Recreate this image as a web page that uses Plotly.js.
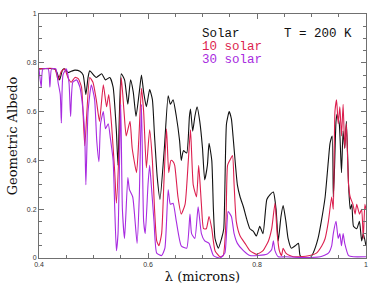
<!DOCTYPE html>
<html>
<head>
<meta charset="utf-8">
<script src="https://cdn.plot.ly/plotly-3.0.1.min.js"></script>
<style>html,body{margin:0;padding:0;background:#fff;}#chart{width:389px;height:291px;}</style>
</head>
<body>
<div id="chart"></div>
<script>
// Wavelength (microns) and geometric albedo
var solarX = [
 0.400,0.429,0.433,0.438,0.443,0.447,0.453,0.459,0.466,0.475,
 0.481,0.486,0.490,0.493,0.505,0.515,0.522,0.530,0.536,0.542,
 0.545,0.551,0.557,0.563,0.568,0.573,0.578,0.584,0.588,0.592,
 0.597,0.603,0.608,0.612,0.617,0.622,0.630,0.637,0.641,0.646,
 0.652,0.658,0.661,0.665,0.671,0.676,0.678,0.682,0.686,0.690,
 0.695,0.700,0.704,0.709,0.712,0.717,0.720,0.723,0.729,0.735,
 0.739,0.744,0.749,0.753,0.756,0.759,0.764,0.769,0.775,0.781,
 0.787,0.793,0.799,0.805,0.811,0.818,0.824,0.830,0.835,0.839,
 0.844,0.848,0.853,0.857,0.863,0.870,0.876,0.879,0.885,0.897,
 0.903,0.912,0.918,0.925,0.931,0.934,0.938,0.940,0.942,0.945,
 0.947,0.951,0.955,0.958,0.961,0.964,0.968,0.971,0.974,0.977,
 0.983,0.988,0.992,0.995,1.000];
var solarY = [
 0.775,0.775,0.760,0.730,0.770,0.775,0.760,0.765,0.770,0.765,
 0.750,0.670,0.740,0.767,0.740,0.755,0.730,0.740,0.700,0.520,
 0.380,0.755,0.730,0.630,0.730,0.680,0.580,0.680,0.750,0.680,
 0.620,0.690,0.650,0.500,0.330,0.240,0.450,0.665,0.630,0.648,
 0.580,0.480,0.400,0.440,0.430,0.580,0.610,0.520,0.580,0.620,
 0.560,0.450,0.320,0.380,0.470,0.400,0.200,0.080,0.040,0.080,
 0.120,0.550,0.600,0.570,0.500,0.420,0.300,0.250,0.210,0.160,
 0.120,0.110,0.090,0.130,0.100,0.240,0.260,0.270,0.200,0.070,
 0.170,0.215,0.150,0.080,0.040,0.050,0.060,0.010,0.000,0.000,
 0.020,0.080,0.150,0.250,0.400,0.470,0.500,0.250,0.350,0.560,
 0.590,0.550,0.350,0.520,0.450,0.560,0.300,0.200,0.220,0.130,
 0.120,0.150,0.070,0.100,0.050];

var tenX = [
 0.400,0.429,0.435,0.441,0.447,0.453,0.459,0.466,0.472,0.478,
 0.484,0.493,0.499,0.505,0.511,0.518,0.524,0.528,0.533,0.539,
 0.542,0.547,0.551,0.556,0.560,0.567,0.571,0.579,0.583,0.588,
 0.592,0.597,0.603,0.608,0.612,0.616,0.620,0.625,0.629,0.634,
 0.638,0.642,0.646,0.649,0.655,0.661,0.668,0.674,0.678,0.683,
 0.689,0.693,0.698,0.702,0.707,0.712,0.717,0.723,0.732,0.738,
 0.743,0.746,0.750,0.755,0.758,0.762,0.769,0.778,0.787,0.799,
 0.811,0.821,0.827,0.833,0.837,0.841,0.845,0.848,0.853,0.860,
 0.867,0.879,0.897,0.909,0.919,0.925,0.931,0.937,0.940,0.943,
 0.946,0.949,0.952,0.955,0.958,0.961,0.964,0.968,0.971,0.976,
 0.980,0.983,0.988,0.992,0.995,0.998,1.000];
var tenY = [
 0.775,0.775,0.730,0.765,0.775,0.740,0.720,0.740,0.735,0.700,
 0.460,0.740,0.720,0.650,0.560,0.710,0.620,0.670,0.550,0.350,
 0.225,0.450,0.740,0.600,0.500,0.560,0.450,0.350,0.480,0.695,
 0.600,0.370,0.525,0.400,0.200,0.070,0.050,0.100,0.300,0.530,
 0.350,0.400,0.395,0.380,0.250,0.180,0.220,0.400,0.525,0.300,
 0.250,0.380,0.220,0.120,0.120,0.170,0.120,0.030,0.005,0.010,
 0.150,0.380,0.400,0.420,0.300,0.150,0.090,0.060,0.030,0.015,
 0.030,0.070,0.120,0.224,0.100,0.030,0.010,0.040,0.020,0.010,
 0.005,0.005,0.010,0.020,0.050,0.080,0.150,0.250,0.200,0.600,
 0.648,0.550,0.620,0.500,0.630,0.450,0.550,0.300,0.250,0.220,
 0.180,0.220,0.180,0.200,0.080,0.220,0.200];

var thirtyX = [
 0.400,0.404,0.407,0.417,0.420,0.423,0.431,0.435,0.439,0.441,
 0.444,0.450,0.455,0.458,0.462,0.469,0.475,0.481,0.484,0.486,
 0.490,0.496,0.502,0.506,0.510,0.513,0.518,0.522,0.527,0.531,
 0.536,0.539,0.542,0.545,0.550,0.553,0.557,0.563,0.566,0.572,
 0.580,0.584,0.588,0.592,0.595,0.600,0.603,0.606,0.611,0.616,
 0.625,0.631,0.637,0.641,0.646,0.652,0.661,0.671,0.677,0.680,
 0.686,0.692,0.698,0.704,0.712,0.720,0.732,0.741,0.747,0.753,
 0.758,0.764,0.775,0.787,0.818,0.827,0.830,0.833,0.839,0.853,
 0.879,0.916,0.931,0.937,0.940,0.945,0.949,0.952,0.955,0.958,
 0.961,0.968,0.977,1.000];
var thirtyY = [
 0.775,0.700,0.775,0.775,0.700,0.775,0.775,0.720,0.670,0.553,
 0.750,0.775,0.720,0.580,0.720,0.730,0.700,0.600,0.500,0.300,
 0.600,0.710,0.650,0.480,0.395,0.550,0.600,0.530,0.550,0.490,
 0.400,0.200,0.030,0.100,0.630,0.200,0.080,0.330,0.280,0.250,
 0.060,0.250,0.630,0.150,0.100,0.300,0.380,0.300,0.150,0.020,
 0.010,0.040,0.280,0.220,0.224,0.150,0.050,0.040,0.180,0.100,
 0.080,0.210,0.100,0.070,0.060,0.010,0.000,0.020,0.190,0.170,
 0.100,0.060,0.030,0.010,0.015,0.035,0.070,0.030,0.005,0.005,
 0.002,0.005,0.020,0.050,0.100,0.150,0.080,0.100,0.050,0.100,
 0.060,0.010,0.005,0.005];

var seriesNames = ['Solar', '10 solar', '30 solar'];
var seriesColors = ['#111111', '#dc1f4f', '#a82be0'];

var serif = 'DejaVu Serif, Liberation Serif, serif';
var mono = 'Liberation Mono, Courier New, monospace';
var axisCol = '#707070';

var traces = [
  {x: solarX, y: solarY, name: seriesNames[0]},
  {x: tenX, y: tenY, name: seriesNames[1]},
  {x: thirtyX, y: thirtyY, name: seriesNames[2]}
].map(function (t, i) {
  t.type = 'scatter'; t.mode = 'lines';
  t.line = {color: seriesColors[i], width: 1.1, shape: 'spline', smoothing: 0.5};
  t.showlegend = false; t.hoverinfo = 'skip';
  return t;
});

function label(text, x, y, color) {
  return {text: text, xref: 'paper', yref: 'paper', x: x, y: y, xanchor: 'left', yanchor: 'middle',
          showarrow: false, font: {family: mono, size: 12.5, color: color}};
}

var layout = {
  width: 389, height: 291,
  margin: {l: 39, r: 23, t: 14, b: 33},
  paper_bgcolor: '#ffffff', plot_bgcolor: '#ffffff',
  showlegend: false,
  xaxis: {
    range: [0.4, 1.0], tickmode: 'linear', tick0: 0.4, dtick: 0.2,
    ticks: 'inside', ticklen: 5, tickcolor: axisCol, tickwidth: 1,
    showline: true, linecolor: axisCol, linewidth: 1, mirror: 'allticks',
    showgrid: false, zeroline: false,
    minor: {tickmode: 'linear', tick0: 0.4, dtick: 0.05, ticks: 'inside', ticklen: 3, tickcolor: axisCol, showgrid: false},
    tickfont: {family: 'Liberation Sans, Arial, sans-serif', size: 7, color: '#333'},
    title: {text: 'λ (microns)', font: {family: serif, size: 13, color: '#111'}, standoff: 4},
    automargin: false
  },
  yaxis: {
    range: [0, 1], tickmode: 'linear', tick0: 0, dtick: 0.2,
    ticks: 'inside', ticklen: 5, tickcolor: axisCol, tickwidth: 1,
    showline: true, linecolor: axisCol, linewidth: 1, mirror: 'allticks',
    showgrid: false, zeroline: false,
    minor: {tickmode: 'linear', tick0: 0, dtick: 0.05, ticks: 'inside', ticklen: 3, tickcolor: axisCol, showgrid: false},
    tickfont: {family: 'Liberation Sans, Arial, sans-serif', size: 7, color: '#333'},
    title: {text: 'Geometric Albedo', font: {family: serif, size: 13, color: '#111'}, standoff: 6},
    automargin: false
  },
  annotations: [
    label(seriesNames[0], 0.493, 0.920, seriesColors[0]),
    label(seriesNames[1], 0.493, 0.866, seriesColors[1]),
    label(seriesNames[2], 0.493, 0.812, seriesColors[2]),
    label('T = 200 K', 0.743, 0.920, '#111111')
  ]
};

Plotly.newPlot('chart', traces, layout, {staticPlot: true, displayModeBar: false});
</script>
</body>
</html>
